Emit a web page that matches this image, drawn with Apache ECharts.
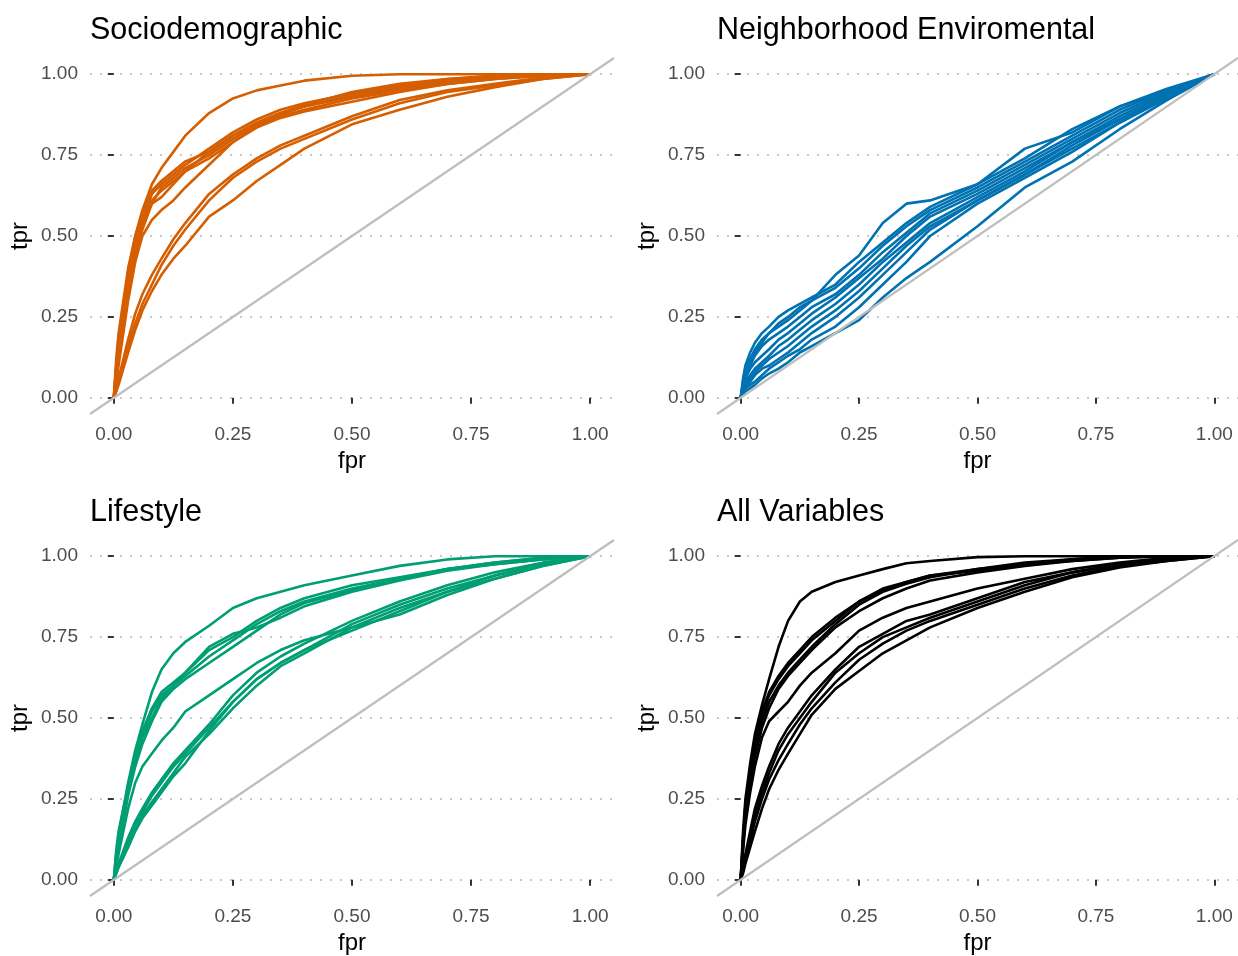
<!DOCTYPE html>
<html>
<head>
<meta charset="utf-8">
<script src="https://cdn.jsdelivr.net/npm/echarts@6/dist/echarts.min.js"></script>
<style>
  html, body { margin: 0; padding: 0; background: #fff; }
  #chart { width: 1238px; height: 956px; }
</style>
</head>
<body>
<div id="chart"></div>
<script>
// fpr positions shared by every curve, tpr per curve
var fprGrid = [0, 0.005, 0.01, 0.02, 0.03, 0.045, 0.06, 0.08, 0.1, 0.125, 0.15, 0.2, 0.25, 0.3, 0.35, 0.4, 0.5, 0.6, 0.7, 0.8, 0.9, 1];

var socioTpr = [
  [0, .12, .2, .3, .4, .5, .58, .66, .71, .76, .81, .88, .925, .95, .965, .98, .995, 1, 1, 1, 1, 1],
  [0, .08, .15, .26, .36, .47, .55, .63, .66, .69, .72, .77, .82, .86, .89, .91, .94, .965, .985, .995, 1, 1],
  [0, .1, .17, .28, .38, .5, .57, .64, .67, .7, .73, .76, .81, .85, .88, .9, .935, .96, .98, .99, 1, 1],
  [0, .06, .12, .22, .33, .44, .52, .6, .65, .68, .71, .75, .8, .845, .875, .9, .93, .955, .975, .99, 1, 1],
  [0, .09, .16, .27, .37, .48, .55, .6, .62, .66, .7, .76, .81, .85, .88, .905, .945, .97, .985, .995, 1, 1],
  [0, .05, .1, .2, .3, .42, .5, .55, .58, .61, .65, .72, .79, .84, .87, .89, .925, .95, .97, .985, .995, 1],
  [0, .07, .13, .24, .34, .45, .53, .61, .64, .67, .7, .74, .79, .835, .865, .885, .915, .945, .97, .985, .995, 1],
  [0, .03, .06, .12, .18, .26, .32, .38, .43, .49, .54, .63, .69, .74, .78, .81, .87, .92, .95, .97, .99, 1],
  [0, .02, .05, .1, .16, .23, .29, .35, .41, .47, .52, .61, .68, .73, .77, .8, .86, .91, .945, .965, .985, 1],
  [0, .02, .04, .09, .14, .21, .27, .33, .38, .43, .47, .56, .61, .67, .72, .77, .845, .89, .93, .96, .985, 1]
];

var neighTpr = [
  [0, .04, .07, .11, .14, .17, .2, .23, .25, .28, .3, .38, .44, .54, .6, .61, .66, .77, .82, .9, .95, 1],
  [0, .06, .1, .14, .17, .2, .22, .25, .27, .29, .31, .35, .42, .48, .54, .59, .66, .74, .83, .9, .955, 1],
  [0, .05, .09, .12, .15, .18, .2, .22, .24, .27, .3, .34, .4, .47, .53, .58, .65, .73, .81, .89, .95, 1],
  [0, .04, .07, .1, .13, .16, .18, .2, .22, .25, .28, .32, .38, .45, .51, .57, .64, .72, .8, .88, .945, 1],
  [0, .03, .06, .09, .11, .13, .15, .18, .2, .23, .26, .31, .37, .43, .5, .56, .63, .71, .79, .87, .94, 1],
  [0, .03, .05, .07, .09, .11, .13, .16, .18, .21, .24, .29, .35, .42, .48, .54, .62, .7, .79, .86, .935, 1],
  [0, .02, .04, .06, .08, .1, .12, .14, .16, .19, .22, .27, .33, .4, .47, .53, .61, .69, .78, .86, .93, 1],
  [0, .02, .03, .05, .07, .09, .1, .12, .14, .17, .2, .25, .31, .38, .45, .52, .61, .69, .77, .85, .93, 1],
  [0, .02, .03, .04, .05, .07, .09, .11, .13, .15, .18, .22, .28, .35, .42, .5, .6, .68, .76, .85, .925, 1],
  [0, .01, .02, .03, .04, .06, .075, .09, .11, .14, .16, .2, .24, .31, .37, .42, .53, .65, .73, .83, .92, 1]
];

var lifeTpr = [
  [0, .08, .14, .22, .3, .4, .48, .58, .65, .7, .735, .785, .84, .87, .89, .91, .94, .97, .99, 1, 1, 1],
  [0, .07, .12, .2, .28, .38, .45, .52, .57, .6, .63, .69, .74, .79, .83, .86, .9, .93, .96, .98, .995, 1],
  [0, .09, .15, .22, .29, .39, .46, .53, .58, .61, .64, .71, .75, .8, .84, .87, .91, .935, .96, .975, .99, 1],
  [0, .06, .11, .19, .27, .36, .44, .5, .56, .6, .64, .72, .76, .78, .81, .845, .89, .925, .955, .975, .99, 1],
  [0, .05, .1, .18, .26, .35, .42, .49, .55, .59, .62, .67, .72, .77, .82, .855, .895, .93, .96, .98, .995, 1],
  [0, .04, .08, .15, .22, .3, .35, .39, .43, .47, .52, .57, .62, .67, .71, .74, .78, .82, .88, .93, .97, 1],
  [0, .03, .05, .09, .13, .18, .22, .27, .31, .36, .4, .48, .57, .64, .69, .73, .8, .86, .91, .95, .98, 1],
  [0, .02, .04, .08, .12, .17, .21, .26, .3, .35, .39, .47, .55, .62, .67, .71, .79, .85, .9, .94, .975, 1],
  [0, .02, .04, .07, .11, .16, .2, .24, .28, .33, .38, .45, .53, .6, .66, .7, .78, .84, .89, .93, .97, 1],
  [0, .02, .04, .07, .1, .15, .19, .23, .27, .32, .36, .46, .55, .62, .67, .71, .77, .83, .89, .94, .975, 1]
];

var allTpr = [
  [0, .15, .25, .36, .45, .54, .62, .72, .8, .86, .89, .92, .94, .96, .978, .985, .997, 1, 1, 1, 1, 1],
  [0, .12, .22, .33, .42, .51, .57, .62, .66, .7, .74, .8, .86, .9, .92, .94, .955, .975, .99, 1, 1, 1],
  [0, .1, .2, .31, .4, .49, .55, .6, .64, .68, .72, .79, .85, .89, .915, .935, .96, .98, .99, 1, 1, 1],
  [0, .13, .23, .34, .43, .52, .58, .63, .67, .71, .75, .81, .86, .895, .92, .94, .96, .975, .985, .995, 1, 1],
  [0, .11, .21, .3, .38, .47, .53, .59, .63, .67, .71, .78, .83, .87, .9, .925, .95, .97, .985, .995, 1, 1],
  [0, .09, .17, .27, .35, .44, .49, .52, .55, .6, .64, .7, .77, .81, .84, .86, .9, .93, .96, .98, .995, 1],
  [0, .04, .08, .15, .22, .29, .35, .42, .47, .52, .57, .65, .72, .76, .8, .82, .87, .92, .95, .975, .99, 1],
  [0, .04, .07, .13, .2, .27, .33, .4, .45, .5, .55, .64, .7, .75, .78, .81, .86, .91, .95, .975, .99, 1],
  [0, .03, .06, .12, .18, .25, .31, .37, .42, .48, .53, .61, .68, .73, .77, .8, .85, .9, .94, .97, .985, 1],
  [0, .02, .05, .1, .15, .22, .28, .34, .39, .45, .51, .59, .645, .7, .74, .78, .84, .89, .935, .965, .985, 1]
];

var panelTitles = ['Sociodemographic', 'Neighborhood Enviromental', 'Lifestyle', 'All Variables'];
var panelColors = ['#D55E00', '#0072B2', '#009E73', '#000000'];
var tickValues = [0, 0.25, 0.5, 0.75, 1];
var diagEnds = [-0.05, 1.05];

var panels = [
  { curves: socioTpr, left: 90, top: 58 },
  { curves: neighTpr, left: 717, top: 58 },
  { curves: lifeTpr, left: 90, top: 540 },
  { curves: allTpr, left: 717, top: 540 }
];

var font = '"Liberation Sans", Arial, sans-serif';
var chart = echarts.init(document.getElementById('chart'));

var grids = [], xAxes = [], yAxes = [], titles = [], series = [];

panels.forEach(function (p, i) {
  grids.push({ left: p.left, top: p.top, width: 524, height: 356 });
  titles.push({
    text: panelTitles[i], left: p.left - 5, top: p.top - 48,
    textStyle: { fontFamily: font, fontSize: 30.5, fontWeight: 'normal', color: '#000' }
  });
  var common = {
    type: 'value', gridIndex: i, min: diagEnds[0], max: diagEnds[1],
    nameLocation: 'middle',
    nameTextStyle: { fontFamily: font, fontSize: 24, color: '#000' },
    axisLine: { show: false },
    axisTick: { show: true, length: 6, customValues: tickValues, lineStyle: { color: '#333', width: 2 } },
    axisLabel: {
      customValues: tickValues, fontFamily: font, fontSize: 19, color: '#4D4D4D',
      formatter: function (v) { return v.toFixed(2); }
    }
  };
  xAxes.push(echarts.util.merge({
    name: 'fpr', nameGap: 35,
    splitLine: { show: false },
    axisLabel: { margin: 11 }
  }, common, true));
  yAxes.push(echarts.util.merge({
    name: 'tpr', nameGap: 58,
    splitLine: { show: true, lineStyle: { color: '#B8B8B8', width: 1.6, type: [2, 8] } },
    axisLabel: { margin: 12 }
  }, common, true));

  p.curves.forEach(function (tpr) {
    series.push({
      type: 'line', xAxisIndex: i, yAxisIndex: i, showSymbol: false, silent: true,
      data: fprGrid.map(function (f, k) { return [f, tpr[k]]; }),
      lineStyle: { color: panelColors[i], width: 2.6 },
      z: 2
    });
  });
  series.push({
    type: 'line', xAxisIndex: i, yAxisIndex: i, showSymbol: false, silent: true,
    data: diagEnds.map(function (d) { return [d, d]; }),
    lineStyle: { color: '#BEBEBE', width: 2.2 },
    z: 3
  });
});

chart.setOption({
  animation: false,
  backgroundColor: '#fff',
  title: titles,
  grid: grids,
  xAxis: xAxes,
  yAxis: yAxes,
  series: series
});
</script>
</body>
</html>
